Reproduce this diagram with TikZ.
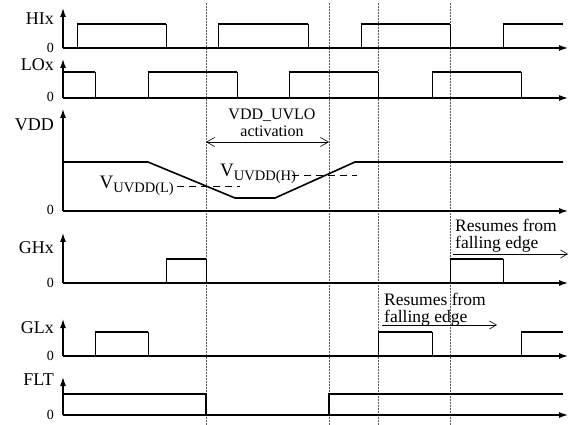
\documentclass[tikz,border=0pt]{standalone}
\usepackage{fontspec}
\setmainfont{Liberation Serif}
\usetikzlibrary{arrows.meta}

\newcommand{\vuvdd}[1]{V\raisebox{-0.2em}{\fontsize{14.5}{14.5}\selectfont UVDD(#1)}}

\tikzset{
  axis/.style={line width=1.2pt, -{Latex[length=9pt,width=6pt]}},
  lvl/.style={line width=1.6pt},
  edg/.style={line width=0.7pt},
  tline/.style={dash pattern=on 2pt off 1pt, line width=0.5pt, gray!70!black},
  sig/.style={font=\fontsize{18}{18}\selectfont, anchor=east, inner sep=0pt},
  zero/.style={font=\fontsize{14}{14}\selectfont, anchor=east, inner sep=0pt},
  note/.style={font=\fontsize{17.5}{16.5}\selectfont, align=left, anchor=base west, inner sep=0pt},
  barb/.style={line width=0.6pt, -{Straight Barb[length=7pt,width=8pt]}},
  thr/.style={dash pattern=on 7pt off 5pt, line width=0.7pt},
}

\begin{document}
\begin{tikzpicture}[x=1pt, y=-1pt]
\useasboundingbox (0,0) rectangle (571,425);

% time marks
\draw [tline] (206,3) -- (206,425);
\draw [tline] (329,3) -- (329,425);
\draw [tline] (378,3) -- (378,425);
\draw [tline] (450,3) -- (450,425);

% HIx
\node [sig] (HIx) at (54,19) {HIx};
\node [zero] (HIx0) at (54,48) {0};
\draw [axis] (63,48) -- (63,8);
\draw [axis] (63,48) -- (568,48);
\draw [edg] (77,48) -- (77,24) (166,24) -- (166,48) (218,48) -- (218,24) (308,24) -- (308,48)
  (361,48) -- (361,24) (450,24) -- (450,48) (503,48) -- (503,24);
\draw [lvl] (77,24) -- (166,24) (218,24) -- (308,24) (361,24) -- (450,24) (503,24) -- (563,24);

% LOx
\node [sig] (LOx) at (54,65) {LOx};
\node [zero] (LOx0) at (54,97) {0};
\draw [axis] (63,98) -- (63,59);
\draw [axis] (63,98) -- (568,98);
\draw [edg] (95,72) -- (95,98) (148,98) -- (148,72) (237,72) -- (237,98) (289,98) -- (289,72)
  (378,72) -- (378,98) (432,98) -- (432,72) (521,72) -- (521,98);
\draw [lvl] (63,72) -- (95,72) (148,72) -- (237,72) (289,72) -- (378,72) (432,72) -- (521,72);

% VDD
\node [sig] (VDD) at (54,125) {VDD};
\node [zero] (VDD0) at (54,210) {0};
\draw [axis] (63,211) -- (63,109);
\draw [axis] (63,211) -- (568,211);
\draw [lvl] (63,162) -- (148,162) -- (235,198) -- (275,198) -- (355,162) -- (563,162);
\draw [thr] (177,186) -- (240,186);
\draw [thr] (292,175) -- (357,175);
\node [font=\fontsize{19}{19}\selectfont, anchor=base east, inner sep=0pt] (VL) at (174,189) {\vuvdd{L}};
\node [font=\fontsize{19}{19}\selectfont, anchor=base west, inner sep=0pt] (VH) at (220,177) {\vuvdd{H}};
\node [font=\fontsize{16}{17}\selectfont, align=center, inner sep=0pt] (uvlo) at (272,123) {VDD\_UVLO\\activation};
\coordinate (uvloA) at (206,142);
\coordinate (uvloB) at (329,142);
\draw [line width=0.6pt, {Straight Barb[length=8pt,width=9pt]}-{Straight Barb[length=8pt,width=9pt]}] (uvloA) -- (uvloB);

% GHx
\node [sig] (GHx) at (54,248) {GHx};
\node [zero] (GHx0) at (54,283) {0};
\draw [axis] (63,283) -- (63,233);
\draw [axis] (63,283) -- (568,283);
\draw [edg] (166,283) -- (166,259) (206,259) -- (206,283) (450,283) -- (450,259) (503,259) -- (503,283);
\draw [lvl] (166,259) -- (206,259) (450,259) -- (503,259);
\node [note] (resH) at (455,248) {Resumes from\\falling edge};
\coordinate (resHa) at (453,254);
\coordinate (resHb) at (568,254);
\draw [barb] (resHa) -- (resHb);

% GLx
\node [sig] (GLx) at (54,328) {GLx};
\node [zero] (GLx0) at (54,356) {0};
\draw [axis] (63,356) -- (63,319);
\draw [axis] (63,356) -- (568,356);
\draw [edg] (95,356) -- (95,332) (148,332) -- (148,356) (378,356) -- (378,332) (432,332) -- (432,356)
  (521,356) -- (521,332);
\draw [lvl] (95,332) -- (148,332) (378,332) -- (432,332) (521,332) -- (563,332);
\node [note] (resL) at (384,322) {Resumes from\\falling edge};
\coordinate (resLa) at (382,325);
\coordinate (resLb) at (497,325);
\draw [barb] (resLa) -- (resLb);

% FLT
\node [sig] (FLT) at (54,380) {FLT};
\node [zero] (FLT0) at (54,415) {0};
\draw [axis] (63,415) -- (63,377);
\draw [axis] (63,415) -- (568,415);
\draw [lvl] (63,394) -- (206,394) -- (206,415) (329,415) -- (329,394) -- (563,394);
\end{tikzpicture}
\end{document}
